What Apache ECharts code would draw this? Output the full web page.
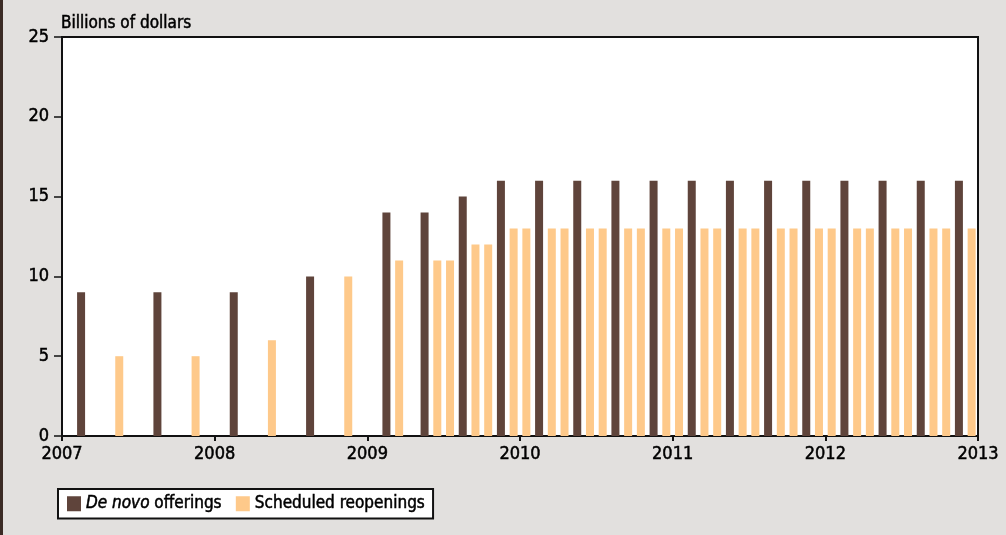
<!DOCTYPE html>
<html>
<head>
<meta charset="utf-8">
<script src="https://cdn.jsdelivr.net/npm/echarts@6/dist/echarts.min.js"></script>
<style>
  html, body { margin: 0; padding: 0; background: #e2e0de; }
  #chart { width: 1006px; height: 535px; border-left: 3px solid #3b2b25; box-sizing: border-box; }
</style>
</head>
<body>
<div id="chart"></div>
<script>
var startYear = 2007;
var yearTicks = ['2007', '2008', '2009', '2010', '2011', '2012', '2013'];

// De novo offerings (month, billions)
var denovoMonths = ['2007-02', '2007-08', '2008-02', '2008-08', '2009-02', '2009-05', '2009-08', '2009-11',
  '2010-02', '2010-05', '2010-08', '2010-11', '2011-02', '2011-05', '2011-08', '2011-11',
  '2012-02', '2012-05', '2012-08', '2012-11'];
var denovoValues = [9, 9, 9, 10, 14, 14, 15, 16,
  16, 16, 16, 16, 16, 16, 16, 16,
  16, 16, 16, 16];

// Scheduled reopenings (month, billions)
var reopenMonths = ['2007-05', '2007-11', '2008-05', '2008-11', '2009-03', '2009-06', '2009-07', '2009-09', '2009-10', '2009-12',
  '2010-01', '2010-03', '2010-04', '2010-06', '2010-07', '2010-09', '2010-10', '2010-12',
  '2011-01', '2011-03', '2011-04', '2011-06', '2011-07', '2011-09', '2011-10', '2011-12',
  '2012-01', '2012-03', '2012-04', '2012-06', '2012-07', '2012-09', '2012-10', '2012-12'];
var reopenValues = [5, 5, 6, 10, 11, 11, 11, 12, 12, 13,
  13, 13, 13, 13, 13, 13, 13, 13,
  13, 13, 13, 13, 13, 13, 13, 13,
  13, 13, 13, 13, 13, 13, 13, 13];

var font = '"DejaVu Sans Condensed", "Liberation Sans Narrow", sans-serif';
// a thin outline in the text colour makes the labels a bit heavier, like the original
var heavy = { textBorderColor: '#000', textBorderWidth: 0.5 };

function toPoints(months, values) {
  return months.map(function (m, i) {
    var p = m.split('-');
    var idx = (parseInt(p[0], 10) - startYear) * 12 + parseInt(p[1], 10) - 1;
    return [idx + 0.5, values[i]];
  });
}

var chart = echarts.init(document.getElementById('chart'));
var option = {
  animation: false,
  backgroundColor: '#e2e0de',
  textStyle: { fontFamily: font },
  title: {
    text: 'Billions of dollars',
    left: 53,
    top: 10,
    textStyle: Object.assign({ fontFamily: font, fontSize: 17, fontWeight: 'normal', color: '#000' }, heavy)
  },
  grid: {
    left: 59,
    right: 28,
    top: 37,
    bottom: 99,
    show: true,
    backgroundColor: '#fff',
    borderColor: '#111',
    borderWidth: 2
  },
  legend: {
    left: 55,
    top: 489,
    orient: 'horizontal',
    backgroundColor: '#fff',
    borderColor: '#111',
    borderWidth: 2,
    padding: [6, 8, 6, 9],
    itemGap: 14,
    itemWidth: 14,
    itemHeight: 15,
    icon: 'rect',
    textStyle: Object.assign({
      fontFamily: font, fontSize: 17, color: '#000',
      rich: { i: Object.assign({ fontFamily: font, fontSize: 17, fontStyle: 'italic', color: '#000' }, heavy) }
    }, heavy),
    formatter: function (name) {
      return name === 'De novo offerings' ? '{i|De novo} offerings' : name;
    },
    data: ['De novo offerings', 'Scheduled reopenings']
  },
  xAxis: {
    type: 'value',
    min: 0,
    max: 72,
    interval: 12,
    splitLine: { show: false },
    axisLine: { show: true, lineStyle: { color: '#111', width: 2 } },
    axisTick: { show: true, inside: false, length: 5, lineStyle: { color: '#111', width: 2 } },
    axisLabel: Object.assign({
      fontFamily: font, fontSize: 18, color: '#000', margin: 9,
      formatter: function (v) { return yearTicks[v / 12]; }
    }, heavy)
  },
  yAxis: {
    type: 'value',
    min: 0,
    max: 25,
    interval: 5,
    splitLine: { show: false },
    axisLine: { show: true, lineStyle: { color: '#111', width: 2 } },
    axisTick: { show: true, inside: false, length: 8, lineStyle: { color: '#111', width: 1.5 } },
    axisLabel: Object.assign({ fontFamily: font, fontSize: 18, color: '#000', margin: 13 }, heavy)
  },
  series: [
    {
      name: 'De novo offerings',
      type: 'bar',
      barWidth: 8,
      barGap: '-100%',
      itemStyle: { color: '#5f443b' },
      data: toPoints(denovoMonths, denovoValues)
    },
    {
      name: 'Scheduled reopenings',
      type: 'bar',
      barWidth: 8,
      barGap: '-100%',
      itemStyle: { color: '#fec98a' },
      data: toPoints(reopenMonths, reopenValues)
    }
  ]
};
chart.setOption(option);
</script>
</body>
</html>
